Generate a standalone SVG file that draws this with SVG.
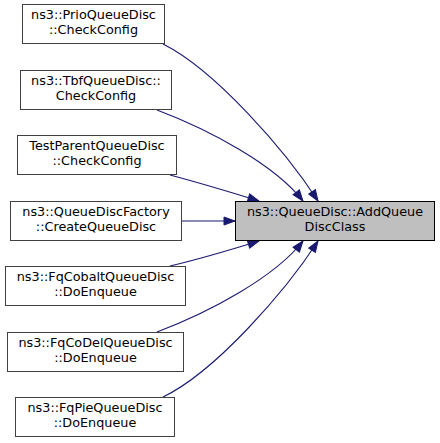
<svg xmlns="http://www.w3.org/2000/svg" width="440" height="443" viewBox="0 0 440 443">
<style>
.n rect{fill:#ffffff;stroke:#404040;stroke-width:1}
.m rect{fill:#bfbfbf;stroke:#000000;stroke-width:1}
text{font-family:"DejaVu Sans","Liberation Sans",sans-serif;font-size:12.8px;fill:#000000;text-anchor:middle}
.e path{fill:none;stroke:#191970;stroke-width:1.1}
</style>
<defs>
<marker id="ah" markerUnits="userSpaceOnUse" markerWidth="13" markerHeight="10" viewBox="-1 -5 13 10" refX="11" refY="0" orient="auto">
<path d="M0,-4 L11,0 L0,4 Z" fill="#191970" stroke="#191970" stroke-width="1"/>
</marker>
</defs>
<rect width="440" height="443" fill="#ffffff"/>
<g id="edges" class="e">
<path d="M163,44 C215,70 285,150 318,201" marker-end="url(#ah)"/>
<path d="M157,110 C210,130 275,165 303,201" marker-end="url(#ah)"/>
<path d="M170,175 C200,183 230,192 259,201" marker-end="url(#ah)"/>
<path d="M181.5,221 L235,221" marker-end="url(#ah)"/>
<path d="M170,266 C200,259 230,250 259,241" marker-end="url(#ah)"/>
<path d="M157,332 C210,312 275,277 303,241" marker-end="url(#ah)"/>
<path d="M163,397 C215,372 285,292 318,241" marker-end="url(#ah)"/>
</g>
<g id="main" class="m">
<rect x="235.5" y="201.5" width="199" height="39"/>
<text x="335" y="216">ns3::QueueDisc::AddQueue</text>
<text x="335" y="231">DiscClass</text>
</g>
<g id="prio" class="n">
<rect x="22.5" y="4.5" width="142" height="39"/>
<text x="93.5" y="19">ns3::PrioQueueDisc</text>
<text x="93.5" y="34">::CheckConfig</text>
</g>
<g id="tbf" class="n">
<rect x="20.5" y="70.5" width="151" height="39"/>
<text x="96" y="85">ns3::TbfQueueDisc::</text>
<text x="96" y="100">CheckConfig</text>
</g>
<g id="testparent" class="n">
<rect x="17.5" y="135.5" width="159" height="39"/>
<text x="97" y="150">TestParentQueueDisc</text>
<text x="97" y="165">::CheckConfig</text>
</g>
<g id="factory" class="n">
<rect x="10.5" y="201.5" width="171" height="39"/>
<text x="96" y="216">ns3::QueueDiscFactory</text>
<text x="96" y="231">::CreateQueueDisc</text>
</g>
<g id="fqcobalt" class="n">
<rect x="5.5" y="266.5" width="180" height="39"/>
<text x="95.5" y="281">ns3::FqCobaltQueueDisc</text>
<text x="95.5" y="296">::DoEnqueue</text>
</g>
<g id="fqcodel" class="n">
<rect x="7.5" y="332.5" width="176" height="39"/>
<text x="95.5" y="347">ns3::FqCoDelQueueDisc</text>
<text x="95.5" y="362">::DoEnqueue</text>
</g>
<g id="fqpie" class="n">
<rect x="15.5" y="397.5" width="159" height="39"/>
<text x="95" y="412">ns3::FqPieQueueDisc</text>
<text x="95" y="427">::DoEnqueue</text>
</g>
</svg>
